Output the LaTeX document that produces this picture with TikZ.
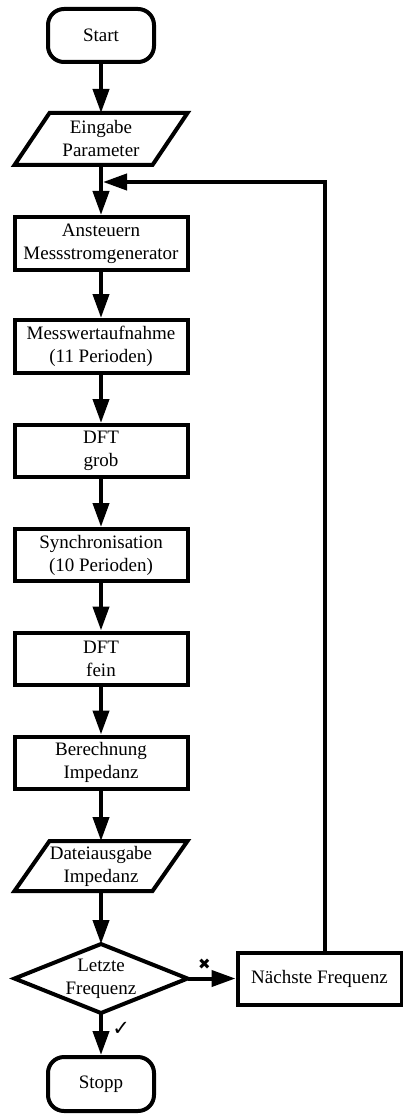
\documentclass[tikz,border=0pt]{standalone}
\usepackage{fontspec}
\setmainfont{Liberation Serif}
\newfontfamily\symbfont{DejaVu Sans}
\usetikzlibrary{arrows.meta}

\tikzset{
    box/.style={draw, line width=4pt, minimum width=173pt, minimum height=52pt,
        inner sep=0pt, align=center},
    term/.style={box, minimum width=106pt, rounded corners=16pt},
    plain/.style={minimum width=173pt, minimum height=52pt, inner sep=0pt,
        outer sep=0pt, align=center},
    outline/.style={line width=4pt},
    flow/.style={line width=4pt, -{Triangle[length=24pt,width=16pt]}},
}

\begin{document}
\begin{tikzpicture}[x=1pt, y=-1pt, font=\fontsize{19}{23}\selectfont]
    \useasboundingbox (0,0) rectangle (403,1115);
    % main column
    \node[term, minimum height=53pt] (start) at (101,35.5) {Start};
    \node[plain] (in) at (101,139) {Eingabe\\Parameter};
    \node[box, minimum height=53pt] (ans) at (101,243.5) {Ansteuern\\Messstromgenerator};
    \node[box, minimum height=53pt] (mess) at (101,346.5) {Messwertaufnahme\\(11 Perioden)};
    \node[box] (dftg) at (101,451) {DFT\\grob};
    \node[box] (sync) at (101,555) {Synchronisation\\(10 Perioden)};
    \node[box] (dftf) at (101,658.5) {DFT\\fein};
    \node[box] (ber) at (101,762.5) {Berechnung\\Impedanz};
    \node[plain, minimum height=50pt] (out) at (101,866) {Dateiausgabe\\Impedanz};
    \node[plain, minimum height=69pt] (dec) at (101,978.5) {Letzte\\Frequenz};
    \node[term, minimum height=54pt] (stop) at (101,1084) {Stopp};
    \node[box, minimum width=164pt] (next) at (319.5,978.5) {Nächste Frequenz};
    \coordinate (loop) at (325,182);

    % shapes of the io and decision nodes
    \draw[outline] ([xshift=35pt]in.north west) -- (in.north east)
        -- ([xshift=-35pt]in.south east) -- (in.south west) -- cycle;
    \draw[outline] ([xshift=35pt]out.north west) -- (out.north east)
        -- ([xshift=-35pt]out.south east) -- (out.south west) -- cycle;
    \draw[outline] (dec.north) -- (dec.east) -- (dec.south) -- (dec.west) -- cycle;

    % connectors
    \draw[flow] (start.south) -- (in.north);
    \draw[flow] (in.south) -- (ans.north);
    \draw[flow] (ans.south) -- (mess.north);
    \draw[flow] (mess.south) -- (dftg.north);
    \draw[flow] (dftg.south) -- (sync.north);
    \draw[flow] (sync.south) -- (dftf.north);
    \draw[flow] (dftf.south) -- (ber.north);
    \draw[flow] (ber.south) -- (out.north);
    \draw[flow] (out.south) -- (dec.north);
    \draw[flow] (dec.east) -- node[pos=0.35, above=4pt] (no) {\symbfont\fontsize{15}{15}\selectfont ✖} (next.west);
    \draw[flow] (dec.south) -- node[pos=0.38, right=6pt] (yes) {\symbfont\fontsize{21}{21}\selectfont ✓} (stop.north);
    \draw[flow, shorten >=2pt] (next.north -| loop) -- (loop) -- (loop -| in.south);
\end{tikzpicture}
\end{document}
